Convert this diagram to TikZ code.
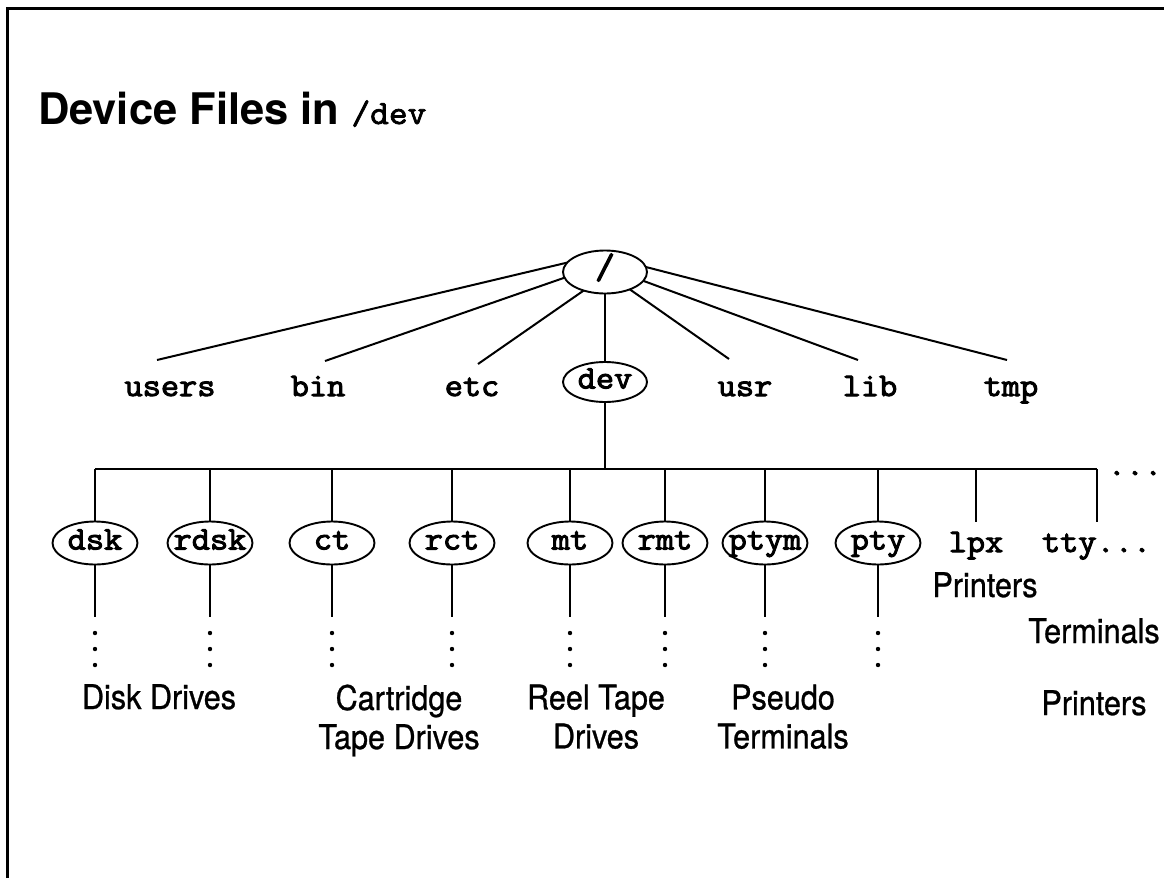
\documentclass[tikz,border=0pt]{standalone}
\usepackage{fontspec}
\setmainfont{TeX Gyre Heros}
\newfontfamily\monof[FakeBold=3, FakeStretch=1.07]{Latin Modern Mono}
\newfontfamily\monot[FakeBold=2.2, FakeStretch=1.07]{Latin Modern Mono}
\newfontfamily\labf[FakeStretch=0.9, FakeBold=0.8]{TeX Gyre Heros}
\usetikzlibrary{shapes.geometric}
\newcommand{\zw}[1]{\makebox[0pt]{#1}}
\begin{document}
\begin{tikzpicture}[x=1pt,y=-1pt,
  every node/.style={inner sep=0pt, outer sep=0pt},
  frameline/.style={line width=3},
  conn/.style={line width=1.7},
  rootconn/.style={line width=2},
  busline/.style={line width=2.4},
  monotext/.style={font=\monof\fontsize{33}{38}\selectfont},
  ellbase/.style={ellipse, draw, line width=1.9, monotext, text height=19, text depth=6},
  ellroot/.style={ellbase, minimum width=84, minimum height=43},
  ellone/.style={ellbase, minimum width=84, minimum height=40},
  elltwo/.style={ellbase, minimum width=85, minimum height=43},
  lvltext/.style={monotext, anchor=base},
  sanslab/.style={font=\labf\fontsize{34}{39}\selectfont, align=center},
  dotmark/.style={fill=black}
]
\useasboundingbox (0,0) rectangle (1164,878);
\fill[white] (0,0) rectangle (1164,878);
% frame
\draw[frameline] (7,878) -- (7,8) -- (1164,8);
% title
\node[anchor=base west] (title) at (38,124) {\bfseries\fontsize{43.5}{50}\selectfont Device Files in \monot\mdseries\fontsize{34}{38}\selectfont /dev};
% root
\node[ellroot] (root) at (605,272) {\zw{\fontsize{36}{40}\selectfont /}};
% level one
\node[lvltext] (users) at (170,396) {users};
\node[lvltext] (bin) at (318,396) {bin};
\node[lvltext] (etc) at (472,396) {etc};
\node[ellone] (dev) at (605,382) {\zw{dev}};
\node[lvltext] (usr) at (745,396) {usr};
\node[lvltext] (lib) at (870,396) {lib};
\node[lvltext] (tmp) at (1011,396) {tmp};
\coordinate (cusers) at (157,360);
\coordinate (cbin) at (325,361);
\coordinate (cetc) at (478,364);
\coordinate (cusr) at (729,359);
\coordinate (clib) at (858,360);
\coordinate (ctmp) at (1007,360);
\draw[rootconn] (root.166) -- (cusers);
\draw[rootconn] (root.188) -- (cbin);
\draw[rootconn] (root.221) -- (cetc);
\draw[rootconn] (root) -- (dev);
\draw[rootconn] (root.325) -- (cusr);
\draw[rootconn] (root.347) -- (clib);
\draw[rootconn] (root.7) -- (ctmp);
% bus
\coordinate (bus) at (605,469);
\coordinate (busl) at (95,469);
\coordinate (busr) at (1097,469);
\draw[conn] (dev) -- (bus);
\draw[busline] (busl) -- (busr);
\node[lvltext] (more) at (1135,475) {...};
% level two
\foreach \n/\x in {dsk/95, rdsk/210, ct/332, rct/452, mt/570, rmt/665, ptym/765, pty/878}{
  \node[elltwo] (\n) at (\x,543) {\zw{\n}};
  \draw[conn] (\n |- bus) -- (\n.north);
  \draw[conn] (\n.south) -- ++(0,52.5);
  \fill[dotmark] (\n.south) ++(0,68.5) circle (2.2);
  \fill[dotmark] (\n.south) ++(0,84.5) circle (2.2);
  \fill[dotmark] (\n.south) ++(0,100.5) circle (2.2);
}
\node[lvltext] (lpx) at (976,552) {lpx};
\draw[conn, shorten >=10] (lpx |- bus) -- (lpx.north);
\node[monotext, anchor=base west] (tty) at (1042,552) {tty...};
\coordinate (ttytop) at (1097,522);
\draw[conn] (busr) -- (ttytop);
% labels
\node[sanslab, anchor=base] (disk) at (159,709) {Disk Drives};
\node[sanslab, anchor=north] (cart) at (399,684.6) {Cartridge\\Tape Drives};
\node[sanslab, anchor=north] (reel) at (596,684.6) {Reel Tape\\Drives};
\node[sanslab, anchor=north] (pseudo) at (783,684.6) {Pseudo\\Terminals};
\node[sanslab, anchor=base] (prtone) at (985,597) {Printers};
\node[sanslab, anchor=base] (term) at (1094,643) {Terminals};
\node[sanslab, anchor=base] (prttwo) at (1094,715) {Printers};
\end{tikzpicture}
\end{document}
